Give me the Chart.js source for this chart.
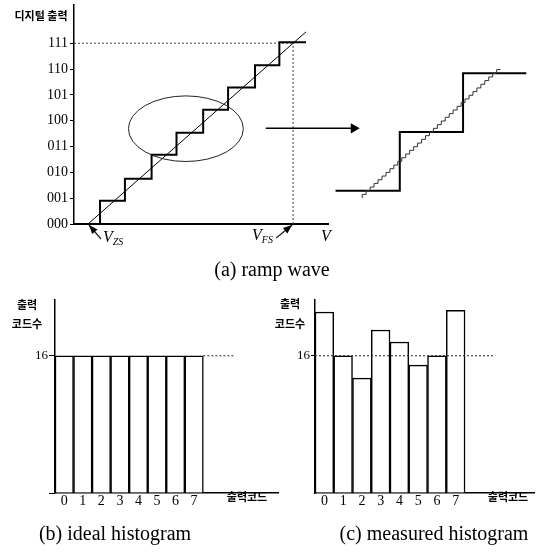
<!DOCTYPE html>
<html>
<head>
<meta charset="utf-8">
<script src="https://cdn.jsdelivr.net/npm/chart.js@4.4.1/dist/chart.umd.min.js"></script>
<style>
  body { margin: 0; background: #fff; }
  #wrap { position: relative; width: 540px; height: 553px; overflow: hidden; font-family: "Liberation Serif", serif; color: #000; }
  canvas { position: absolute; }
  .t { position: absolute; white-space: nowrap; line-height: 1; transform: translate(-50%, -50%); }
  .ko { font-family: "Noto Sans CJK KR", sans-serif; font-weight: 700; font-size: 11px; }
  .cap { font-size: 20px; }
  .v { position: absolute; white-space: nowrap; line-height: 1; font-style: italic; font-size: 16px; }
  .v sub { font-size: 10px; vertical-align: -3px; }
</style>
</head>
<body>
<div id="wrap">
  <canvas id="ramp" width="340" height="250" style="left:0;top:0"></canvas>
  <canvas id="zoom" width="290" height="170" style="left:250px;top:50px"></canvas>
  <canvas id="ideal" width="279" height="225" style="left:0;top:295px"></canvas>
  <canvas id="measured" width="250" height="225" style="left:285px;top:295px"></canvas>

  <div class="t ko" style="left:41px;top:15px">디지털 출력</div>
  <div class="v" style="left:103px;top:229px">V<sub>ZS</sub></div>
  <div class="v" style="left:252px;top:227px">V<sub>FS</sub></div>
  <div class="v" style="left:321px;top:228px">V</div>
  <div class="t cap" style="left:272px;top:269px">(a) ramp wave</div>

  <div class="t ko" style="left:27px;top:304px">출력</div>
  <div class="t ko" style="left:27px;top:323px">코드수</div>
  <div class="t ko" style="left:247px;top:496px">출력코드</div>
  <div class="t cap" style="left:115px;top:533px">(b) ideal histogram</div>

  <div class="t ko" style="left:290px;top:303px">출력</div>
  <div class="t ko" style="left:290px;top:323px">코드수</div>
  <div class="t ko" style="left:508px;top:496px">출력코드</div>
  <div class="t cap" style="left:434px;top:533px">(c) measured histogram</div>
</div>
<script>
// (a) ramp wave: output code vs input voltage (V_ZS = 0, V_FS = 7 LSB)
const codeLabels = ['000', '001', '010', '011', '100', '101', '110', '111'];
const codeValues = [0, 1, 2, 3, 4, 5, 6, 7];
const stairX = [0, 0.41, 1.26, 2.17, 3.02, 3.93, 4.78, 5.70, 6.53, 7.44];
const stairY = [0, 0.90, 1.75, 2.68, 3.53, 4.42, 5.29, 6.15, 7.04, 7.04];
const rampX = [0, 7.44];
const rampY = [0, 7.44];
const vZS = 0;
const vFS = 7;
const fullCode = 7;
const lensCenter = [3.34, 3.69];
const lensRadius = [1.96, 1.27];

// zoomed view: coarse steps vs fine steps
const coarseX = [-8.24, 8, 24, 40];
const coarseY = [0, 16, 32, 32];
const fineX = [-1.5, -0.5, 0.5, 1.5, 2.5, 3.5, 4.5, 5.5, 6.5, 7.5, 8.5, 9.5, 10.5, 11.5, 12.5, 13.5, 14.5, 15.5,
               16.5, 17.5, 18.5, 19.5, 20.5, 21.5, 22.5, 23.5, 24.5, 25.5, 26.5, 27.5, 28.5, 29.5, 30.5, 31.5, 32.5, 33.5];
const fineY = [-2, -1, 0, 1, 2, 3, 4, 5, 6, 7, 8, 9, 10, 11, 12, 13, 14, 15,
               16, 17, 18, 19, 20, 21, 22, 23, 24, 25, 26, 27, 28, 29, 30, 31, 32, 33];
const arrowX = [-25.9, -3.64];
const arrowY = [17, 17];

// (b), (c) histograms
const histCodes = [0, 1, 2, 3, 4, 5, 6, 7];
const histLabels = ['0', '1', '2', '3', '4', '5', '6', '7'];
const idealCounts = [16, 16, 16, 16, 16, 16, 16, 16];
const measuredCounts = [21.1, 16, 13.4, 19.0, 17.6, 14.9, 16, 21.3];
const refCount = 16;
const idealGuide = [7.5, 9.2];
const measuredGuide = [-0.5, 9.1];

const pts = (xs, ys) => xs.map((x, i) => ({ x, y: ys[i] }));

Chart.defaults.font.family = 'Liberation Serif';
Chart.defaults.color = '#000';

const base = {
  responsive: false,
  animation: false,
  devicePixelRatio: 1,
  events: [],
  plugins: { legend: { display: false }, tooltip: { enabled: false } },
  elements: { point: { radius: 0 }, line: { tension: 0, fill: false } }
};

const lensPlugin = {
  id: 'lens',
  afterDatasetsDraw(chart) {
    const { ctx, scales: { x, y } } = chart;
    const cx = x.getPixelForValue(lensCenter[0]);
    const cy = y.getPixelForValue(lensCenter[1]);
    const rx = x.getPixelForValue(lensCenter[0] + lensRadius[0]) - cx;
    const ry = cy - y.getPixelForValue(lensCenter[1] + lensRadius[1]);
    ctx.save();
    ctx.strokeStyle = '#222';
    ctx.lineWidth = 1;
    ctx.beginPath();
    ctx.ellipse(cx, cy, rx, ry, 0, 0, Math.PI * 2);
    ctx.stroke();

    // small pointers at V_ZS and V_FS
    const pointer = (tipX, tipY, dx, dy) => {
      const len = Math.hypot(dx, dy), ux = dx / len, uy = dy / len;
      ctx.lineWidth = 1.2;
      ctx.beginPath();
      ctx.moveTo(tipX, tipY);
      ctx.lineTo(tipX + dx, tipY + dy);
      ctx.stroke();
      ctx.beginPath();
      ctx.moveTo(tipX, tipY);
      ctx.lineTo(tipX + ux * 9 - uy * 3.5, tipY + uy * 9 + ux * 3.5);
      ctx.lineTo(tipX + ux * 9 + uy * 3.5, tipY + uy * 9 - ux * 3.5);
      ctx.closePath();
      ctx.fillStyle = '#000';
      ctx.fill();
    };
    pointer(x.getPixelForValue(vZS) + 1, y.getPixelForValue(0) + 1, 12, 14);
    pointer(x.getPixelForValue(vFS) - 1, y.getPixelForValue(0) + 1, -16, 13);
    ctx.restore();
  }
};

new Chart(document.getElementById('ramp'), {
  type: 'line',
  data: {
    datasets: [
      { data: pts(stairX, stairY), stepped: true, borderColor: '#000', borderWidth: 2 },
      { data: pts(rampX, rampY), borderColor: '#000', borderWidth: 1 },
      { data: [{ x: -0.478, y: fullCode }, { x: vFS, y: fullCode }], borderColor: '#444', borderWidth: 1, borderDash: [2, 2] },
      { data: [{ x: vFS, y: 0 }, { x: vFS, y: fullCode }], borderColor: '#444', borderWidth: 1, borderDash: [2, 2] }
    ]
  },
  options: {
    ...base,
    layout: { padding: { top: 5, right: 12, left: 0, bottom: 0 } },
    scales: {
      x: {
        type: 'linear', min: -0.478, max: 8.19,
        ticks: { display: false },
        grid: { display: false, drawTicks: false },
        border: { color: '#000', width: 2 },
        afterFit: s => { s.height = 26; s.paddingLeft = 0; s.paddingRight = 0; }
      },
      y: {
        type: 'linear', min: 0, max: 8.48,
        afterBuildTicks: s => { s.ticks = codeValues.map(v => ({ value: v })); },
        ticks: { callback: v => codeLabels[v], color: '#000', font: { size: 14 }, padding: 2, autoSkip: false },
        grid: { drawOnChartArea: false, tickLength: 4, color: '#000' },
        border: { color: '#000', width: 1.5 },
        afterFit: s => { s.width = 74; s.paddingTop = 0; s.paddingBottom = 0; }
      }
    }
  },
  plugins: [lensPlugin]
});

new Chart(document.getElementById('zoom'), {
  type: 'line',
  data: {
    datasets: [
      { data: pts(fineX, fineY), stepped: 'after', borderColor: '#333', borderWidth: 1 },
      { data: pts(coarseX, coarseY), stepped: true, borderColor: '#000', borderWidth: 2 },
      { data: pts(arrowX, arrowY), borderColor: '#000', borderWidth: 1.5,
        pointRadius: [0, 6], pointStyle: 'triangle', pointRotation: 90,
        pointBackgroundColor: '#000', pointBorderWidth: 0 }
    ]
  },
  options: {
    ...base,
    layout: { padding: 0 },
    scales: {
      x: { type: 'linear', display: false, min: -28.36, max: 41.94 },
      y: { type: 'linear', display: false, min: -6.33, max: 36.7 }
    }
  }
});

function histogram(id, counts, guide, yWidth, xMax, tickLen, zeroTick) {
  return new Chart(document.getElementById(id), {
    type: 'bar',
    data: {
      datasets: [
        { type: 'line', order: 0, data: [{ x: guide[0], y: refCount }, { x: guide[1], y: refCount }],
          borderColor: '#222', borderWidth: 1, borderDash: [2, 2], pointRadius: 0 },
        { order: 1, data: pts(histCodes, counts), backgroundColor: '#fff', borderColor: '#000',
          borderWidth: 1.5, barPercentage: 1, categoryPercentage: 1 }
      ]
    },
    options: {
      ...base,
      layout: { padding: { top: 5, right: 0, left: 0, bottom: 0 } },
      scales: {
        x: {
          type: 'linear', offset: false, min: -0.5, max: xMax,
          afterBuildTicks: s => { s.ticks = histCodes.map(v => ({ value: v })); },
          ticks: { callback: v => histLabels[v], color: '#000', font: { size: 14 }, padding: 0, autoSkip: false, maxRotation: 0 },
          grid: { display: false, drawTicks: false },
          border: { color: '#000', width: 1.5 },
          afterFit: s => { s.height = 27; s.paddingLeft = 0; s.paddingRight = 0; }
        },
        y: {
          type: 'linear', min: 0, max: 22.5,
          afterBuildTicks: s => { s.ticks = [{ value: 0 }, { value: refCount }]; },
          ticks: { callback: v => (v === refCount ? String(refCount) : ''), color: '#000', font: { size: 13 }, padding: 1, autoSkip: false },
          grid: { drawOnChartArea: false, tickLength: tickLen,
                  color: c => (c.tick && c.tick.value === 0 && !zeroTick ? 'rgba(0,0,0,0)' : '#000') },
          border: { color: '#000', width: 1.5 },
          afterFit: s => { s.width = yWidth; s.paddingTop = 0; s.paddingBottom = 0; }
        }
      }
    }
  });
}

histogram('ideal', idealCounts, idealGuide, 55, 11.58, 6, true);
histogram('measured', measuredCounts, measuredGuide, 30, 11.23, 4, false);
</script>
</body>
</html>
